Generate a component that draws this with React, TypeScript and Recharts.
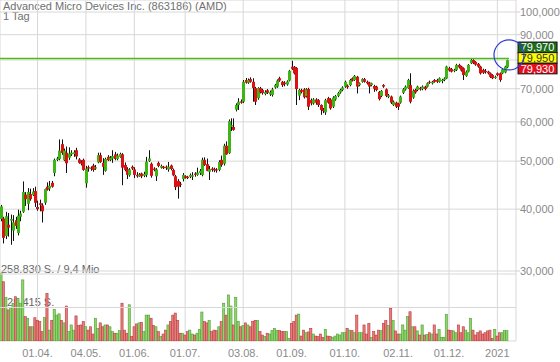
import React from 'react';
import { ComposedChart, Bar, XAxis, YAxis, CartesianGrid, ReferenceLine, ReferenceDot } from 'recharts';

// Daily candles, AMD (EUR), index 0 = first trading day shown
const opens = [
  38.2,38.3,35.3,37.2,37.9,36.2,38.0,35.8,38.6,39.5,
  42.8,41.0,42.9,42.7,43.5,40.4,41.1,40.7,41.2,44.4,
  44.0,45.2,47.3,50.3,50.5,54.1,50.2,52.0,50.8,51.6,
  51.7,52.6,50.4,49.8,50.3,45.1,48.6,48.5,49.0,48.3,
  49.7,51.4,49.6,47.8,51.0,50.3,50.6,51.6,50.5,51.0,
  51.6,49.1,48.2,46.8,48.7,48.1,46.9,46.6,47.2,46.7,
  46.9,50.0,49.4,48.3,46.6,49.6,48.5,48.7,48.7,48.1,
  49.0,48.0,46.6,45.6,45.0,46.0,46.6,46.5,46.5,46.5,
  47.2,46.9,47.3,46.9,50.3,49.3,47.6,48.3,48.2,48.1,
  48.0,50.3,49.4,53.7,51.9,58.7,58.6,63.5,64.9,66.0,
  65.9,72.9,72.0,73.2,72.3,70.2,67.0,70.2,69.6,68.3,
  69.5,68.2,68.0,70.4,70.7,73.5,72.3,72.0,71.4,72.7,
  77.5,77.5,77.1,67.8,69.6,69.8,67.6,69.9,66.4,65.4,
  66.6,66.4,64.9,63.6,62.7,67.0,66.6,64.4,66.6,67.7,
  68.8,69.6,70.7,71.0,71.2,73.5,72.9,74.0,71.2,72.3,
  73.2,72.3,72.0,71.2,70.9,70.7,69.0,67.7,71.2,69.8,
  67.4,67.5,64.9,65.6,65.4,65.6,68.7,69.8,70.2,71.2,
  67.2,69.6,69.6,70.3,69.9,70.7,70.7,72.3,71.8,72.9,
  72.9,72.3,72.6,72.9,73.4,77.0,76.7,76.0,76.4,78.2,
  77.6,77.0,74.3,75.8,78.8,80.0,79.3,78.6,77.6,76.4,
  76.0,75.8,75.2,74.6,73.6,75.2,75.2,75.2,75.5,77.3,
];
const highs = [
  40.8,38.6,39.5,39.3,39.0,38.9,38.6,39.9,39.7,45.5,
  43.3,44.1,44.0,44.1,44.4,41.6,41.8,41.1,44.0,45.3,
  45.6,45.6,50.6,51.0,55.3,55.3,53.0,53.5,53.3,52.6,
  52.6,53.2,50.7,50.2,50.6,48.9,49.0,48.8,49.4,49.1,
  52.0,52.0,50.7,50.8,51.4,51.2,52.6,52.2,51.8,52.0,
  51.9,49.7,48.6,48.4,49.0,48.6,47.5,47.3,47.4,47.6,
  51.0,52.6,49.7,48.6,48.4,49.9,49.2,48.9,49.0,49.8,
  49.2,48.3,46.9,46.0,45.4,47.3,46.8,46.7,47.2,47.5,
  47.5,48.5,48.2,50.8,50.9,50.6,48.9,48.6,48.5,48.4,
  50.2,51.3,54.2,54.8,60.7,61.0,61.0,65.4,67.0,66.6,
  72.9,73.6,73.4,73.8,73.5,70.6,70.5,70.6,70.0,69.5,
  69.9,69.4,70.3,71.6,73.1,74.0,72.6,72.5,72.8,76.4,
  79.7,77.8,77.4,70.0,70.0,70.2,70.2,70.3,66.9,67.0,
  67.0,66.7,65.1,64.0,66.8,67.4,67.0,67.6,68.0,69.0,
  70.0,70.8,72.7,71.4,73.3,73.8,74.6,74.3,72.1,73.5,
  73.6,72.7,72.3,72.0,71.3,71.0,69.3,69.6,71.5,70.1,
  68.3,67.8,66.3,65.9,65.6,67.8,70.2,71.1,73.3,75.2,
  69.8,70.0,71.0,70.6,71.1,71.0,72.1,72.7,72.6,73.2,
  73.3,73.8,73.3,73.8,77.9,77.5,77.1,76.8,78.6,78.6,
  77.9,77.3,76.2,78.5,80.5,80.3,79.6,78.9,77.9,76.8,
  76.7,76.1,75.5,74.9,74.4,75.5,75.5,77.0,77.9,80.1,
];
const lows = [
  37.8,34.1,34.8,35.2,33.9,34.5,36.5,35.4,37.8,39.3,
  40.6,39.8,41.6,42.5,40.4,39.7,39.6,37.6,40.8,43.6,
  43.5,44.2,46.6,50.0,50.2,51.5,50.0,47.3,50.3,51.2,
  51.0,50.4,49.4,49.0,47.8,44.2,47.6,47.8,47.6,48.0,
  49.5,49.6,46.9,47.6,50.0,50.0,49.6,50.2,50.2,50.8,
  44.7,47.7,46.0,46.5,48.0,46.2,46.3,46.5,46.2,46.4,
  46.4,49.8,46.3,47.7,45.6,48.6,48.3,48.2,48.0,47.6,
  47.9,46.6,43.7,42.0,44.3,45.5,46.1,46.0,46.2,45.8,
  46.5,46.7,46.9,46.6,48.9,47.7,45.8,47.6,47.5,47.4,
  47.7,48.7,49.0,51.5,51.7,57.5,57.6,63.0,63.4,65.3,
  65.5,71.7,71.6,72.0,65.9,64.9,66.5,68.5,68.1,67.9,
  68.3,67.7,67.5,70.0,70.3,72.3,70.6,70.8,71.0,72.4,
  76.4,74.8,64.9,66.4,68.5,66.9,67.2,63.4,64.8,65.0,
  65.0,64.3,62.0,62.5,62.0,65.3,63.5,64.0,66.2,67.3,
  68.4,69.2,70.3,70.0,70.8,72.4,72.6,68.5,70.8,72.0,
  72.0,71.4,68.5,70.8,69.0,69.2,66.3,67.3,70.3,67.3,
  67.0,65.2,64.6,64.0,63.4,65.3,68.3,69.4,70.0,65.4,
  66.8,68.4,69.2,69.4,69.5,69.5,70.4,71.6,71.4,72.0,
  71.9,72.0,71.8,72.5,73.2,75.8,75.5,75.6,76.0,76.9,
  75.8,72.9,74.0,75.5,78.5,78.5,77.9,77.2,74.8,75.0,
  75.1,74.8,73.6,73.2,73.3,74.2,72.3,74.9,75.2,77.0,
];
const closes = [
  40.5,35.0,38.7,36.7,38.2,37.6,37.0,38.8,39.2,43.3,
  41.9,43.3,41.9,43.4,41.2,40.0,40.8,39.6,43.9,43.8,
  44.6,44.4,50.3,50.6,52.5,51.9,52.5,49.5,51.8,52.0,
  52.1,51.1,49.6,49.4,48.0,48.3,48.3,48.3,48.0,48.6,
  51.4,49.8,48.7,50.5,50.2,50.8,51.2,50.5,51.3,51.7,
  48.5,48.0,46.9,48.1,48.3,46.9,46.6,47.0,46.6,47.1,
  49.9,50.6,46.7,48.0,48.1,48.9,48.9,48.4,48.4,48.7,
  48.2,46.8,44.3,44.4,44.8,46.9,46.3,46.2,46.9,46.8,
  46.9,47.4,47.8,50.3,49.1,47.8,48.2,48.0,47.9,47.9,
  49.8,49.1,53.7,51.6,60.2,59.1,57.8,64.9,65.9,65.6,
  72.3,72.0,72.9,72.3,70.2,65.9,70.2,68.9,68.6,68.9,
  68.7,68.9,69.8,71.2,72.7,72.7,71.2,71.5,72.4,76.1,
  76.8,75.2,69.9,69.6,69.0,67.3,69.8,64.4,65.4,66.6,
  65.6,64.9,63.4,63.1,66.4,65.6,63.9,67.2,67.7,68.6,
  69.6,70.4,72.3,70.5,72.9,72.7,74.3,70.7,71.8,73.2,
  72.3,71.8,70.7,71.8,70.0,69.6,66.7,69.3,70.7,67.7,
  67.9,65.6,65.9,64.4,64.4,67.5,69.8,70.7,72.9,65.9,
  69.4,68.8,70.7,69.8,70.7,69.9,71.8,72.0,72.3,72.3,
  72.3,73.5,72.9,73.4,77.6,76.2,75.8,76.4,78.2,77.3,
  76.2,74.6,75.8,78.2,80.0,78.9,78.3,77.6,75.2,75.4,
  75.6,75.2,74.0,73.5,74.0,74.6,72.9,76.6,77.6,79.95,
];
// volume in thousand shares
const volumes = [
  262,229,169,120,128,146,171,165,146,236,
  94,88,55,55,90,80,75,36,91,184,
  42,80,122,100,105,80,70,135,36,62,
  42,97,60,62,75,55,42,55,27,88,
  49,70,55,62,62,55,36,30,30,40,
  146,42,30,140,17,55,66,70,72,36,
  100,100,88,60,55,36,17,27,42,62,
  75,100,108,80,30,30,23,36,42,27,
  23,30,45,112,75,70,80,36,42,40,
  55,75,146,100,178,135,62,169,75,55,
  60,70,62,55,75,80,80,36,23,17,
  30,27,40,49,40,40,36,36,36,10,
  68,75,100,104,19,42,32,35,49,27,
  19,17,27,14,45,19,17,14,19,27,
  23,32,32,49,42,40,32,100,32,32,
  62,27,68,14,36,23,42,40,68,79,
  60,126,79,39,27,27,62,42,94,113,
  55,55,39,23,62,23,25,32,27,62,
  27,45,14,14,103,42,40,39,32,62,
  32,55,42,32,88,42,23,32,39,27,
  32,39,42,10,45,19,32,32,40,40,
];

const tickIdx = [15, 35, 55, 76, 100, 120, 142, 164, 185, 205];
const tickLabels = ['01.04.', '04.05.', '01.06.', '01.07.', '03.08.', '01.09.', '01.10.', '02.11.', '01.12.', '2021'];
const priceTicks = [30, 40, 50, 60, 70, 80, 90, 100];
const hiddenPriceLabel = 80; // covered by the quote boxes in the reference
const volumeLines = [129.415, 258.83];
const resistanceLevel = 80.6;
const quoteAsk = 79.97;
const quoteLast = 79.95;
const quoteBid = 79.93;

const GREEN = '#3cb515';
const RED = '#dc1212';
const FONT = '"Liberation Sans", Arial, sans-serif';

const data = closes.map((c, i) => ({
  i,
  range: [lows[i], highs[i]],
  open: opens[i],
  high: highs[i],
  low: lows[i],
  close: c,
  vol: volumes[i],
}));

const fmtPrice = (v: number) => v.toFixed(3).replace('.', ',');

const Candle = (props: any) => {
  const { x, y, width, height } = props;
  const d = props.payload && props.payload.close !== undefined ? props.payload : data[props.index];
  if (!d || !isFinite(y) || !isFinite(height)) return null;
  const top = Math.min(y, y + height);
  const bottom = Math.max(y, y + height);
  const cx = Math.round(x + width / 2) + 0.5;
  const lh = Math.log(d.high);
  const ll = Math.log(d.low);
  const span = lh - ll;
  const pos = (v: number) => (span > 0 ? top + (bottom - top) * (lh - Math.log(v)) / span : top);
  const yo = pos(d.open);
  const yc = pos(d.close);
  const bt = Math.min(yo, yc);
  const bb = Math.max(yo, yc);
  const color = d.close >= d.open ? GREEN : RED;
  return (
    <g>
      <line x1={cx} x2={cx} y1={top} y2={bottom} stroke="#111" strokeWidth={1} />
      <rect x={cx - 1.5} y={bt} width={3} height={Math.max(bb - bt, 1)} fill={color} />
    </g>
  );
};

const VolBar = (props: any) => {
  const { x, y, width, height } = props;
  const d = props.payload && props.payload.close !== undefined ? props.payload : data[props.index];
  if (!d || !isFinite(y) || !isFinite(height)) return null;
  const up = d.close >= d.open;
  const cx = x + width / 2;
  return (
    <rect
      x={cx - 1.1}
      y={y}
      width={2.2}
      height={Math.max(height, 0)}
      fill={up ? '#8fd46c' : '#e77c7c'}
      stroke={up ? '#4f9f32' : '#bb3a3a'}
      strokeWidth={0.6}
    />
  );
};

const QuoteTags = (props: any) => {
  const { cx, cy } = props;
  if (!isFinite(cx) || !isFinite(cy)) return null;
  const bx = cx + 11;
  const w = 39;
  const h = 10.6;
  const y0 = cy - 7.5 - h;
  const rows = [
    { v: quoteAsk, bg: '#1d6b1d', fg: '#ffffff' },
    { v: quoteLast, bg: '#ffff00', fg: '#333333' },
    { v: quoteBid, bg: '#e3101f', fg: '#ffffff' },
  ];
  return (
    <g>
      {rows.map((r, k) => (
        <g key={k}>
          <rect x={bx} y={y0 + k * h} width={w} height={h} fill={r.bg} stroke="#111" strokeWidth={1} />
          <text
            x={bx + w / 2}
            y={y0 + k * h + h / 2 + 4}
            textAnchor="middle"
            fontSize={11}
            fill={r.fg}
            fontFamily={FONT}
          >
            {fmtPrice(r.v)}
          </text>
        </g>
      ))}
    </g>
  );
};

const textStyle: React.CSSProperties = {
  position: 'absolute',
  fontSize: 11,
  lineHeight: '13px',
  whiteSpace: 'nowrap',
  fontFamily: FONT,
};

export default function App() {
  return (
    <div style={{ position: 'absolute', left: 0, top: 0, width: 560, height: 362, background: '#fff', fontFamily: FONT, overflow: 'hidden' }}>
      <div style={{ ...textStyle, left: 3, top: -0.5, color: '#707070' }}>Advanced Micro Devices Inc. (863186) (AMD)</div>
      <div style={{ ...textStyle, left: 3, top: 10, color: '#707070' }}>1 Tag</div>
      <div style={{ ...textStyle, left: 1, top: 263, color: '#666' }}>258.830 S. / 9,4 Mio</div>
      <div style={{ ...textStyle, left: 1, top: 296, color: '#666' }}>129.415 S.</div>
      <div style={{ position: 'absolute', left: 0, top: 0 }}>
        <ComposedChart width={560} height={362} data={data} margin={{ top: 0, right: 0, bottom: 0, left: 0 }}>
          <CartesianGrid stroke="#d8d8d8" yAxisId="price" />
          <XAxis
            dataKey="i"
            type="number"
            domain={[-0.496, 212.7]}
            allowDataOverflow
            ticks={tickIdx}
            interval={0}
            tickFormatter={(v: number) => tickLabels[tickIdx.indexOf(v)] ?? ''}
            axisLine={false}
            tickLine={false}
            height={21}
            tick={{ fontSize: 11, fill: '#8a8a8a' }}
          />
          <XAxis xAxisId="vol" dataKey="i" type="number" domain={[-0.496, 212.7]} allowDataOverflow hide />
          <YAxis
            yAxisId="price"
            orientation="right"
            scale="log"
            domain={[21.67, 105.74]}
            allowDataOverflow
            ticks={priceTicks}
            interval={0}
            width={44}
            axisLine={false}
            tickLine={{ stroke: '#d0d0d0' }}
            tickSize={4}
            tickMargin={0}
            tickFormatter={(v: number) => (v === hiddenPriceLabel ? '' : fmtPrice(v))}
            tick={{ fontSize: 11, fill: '#8a8a8a', textAnchor: 'start' }}
          />
          <YAxis yAxisId="vol" domain={[0, 1317.3]} allowDataOverflow hide />
          {volumeLines.map((v) => (
            <ReferenceLine key={v} yAxisId="vol" y={v} stroke="#d8d8d8" strokeWidth={1} />
          ))}
          <Bar xAxisId="vol" yAxisId="vol" dataKey="vol" barSize={2} shape={VolBar} isAnimationActive={false} />
          <Bar yAxisId="price" dataKey="range" barSize={3} shape={Candle} isAnimationActive={false} />
          <ReferenceLine
            yAxisId="price"
            segment={[{ x: -0.49, y: resistanceLevel }, { x: 209.8, y: resistanceLevel }]}
            stroke="#4cbb17"
            strokeWidth={1.5}
            ifOverflow="visible"
          />
          <ReferenceDot yAxisId="price" x={209} y={quoteLast} r={0} ifOverflow="visible" shape={QuoteTags} />
          <ReferenceDot yAxisId="price" x={209.8} y={81.9} r={15} fill="none" stroke="#2b3bdc" strokeWidth={1.2} ifOverflow="visible" />
        </ComposedChart>
      </div>
    </div>
  );
}
